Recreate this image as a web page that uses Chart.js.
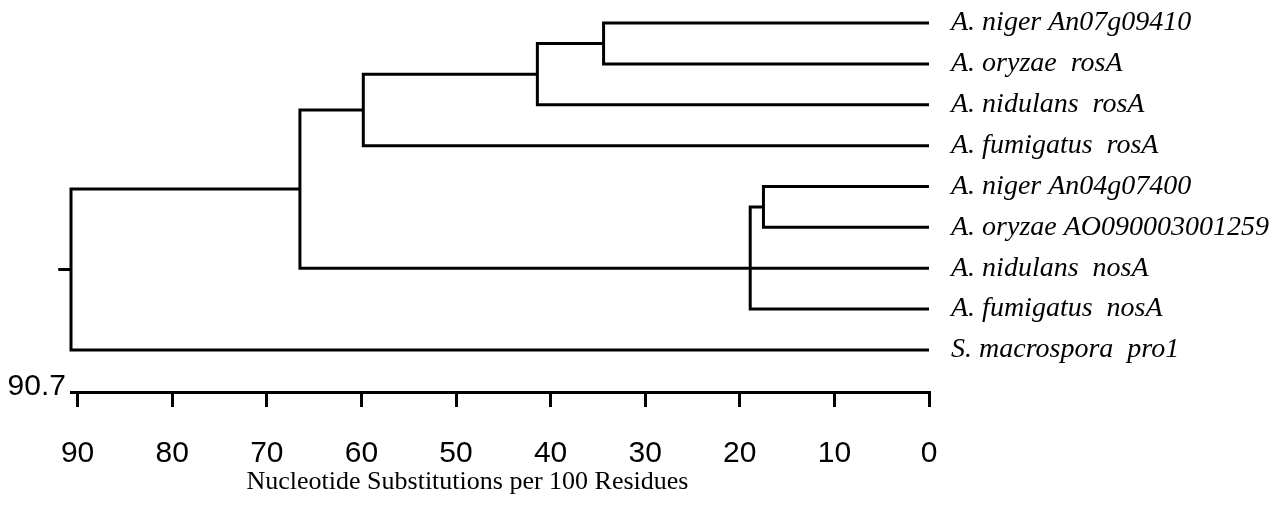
<!DOCTYPE html>
<html>
<head>
<meta charset="utf-8">
<script src="https://cdn.jsdelivr.net/npm/chart.js@4.4.1/dist/chart.umd.min.js"></script>
<style>
  html, body { margin: 0; padding: 0; background: #fff; }
  #wrap { width: 1287px; height: 510px; }
</style>
</head>
<body>
<div id="wrap"><canvas id="tree"></canvas></div>
<script>
// Leaves, top to bottom (row index = position in this list)
const leafNames = [
    'A. niger An07g09410',
    'A. oryzae  rosA',
    'A. nidulans  rosA',
    'A. fumigatus  rosA',
    'A. niger An04g07400',
    'A. oryzae AO090003001259',
    'A. nidulans  nosA',
    'A. fumigatus  nosA',
    'S. macrospora  pro1'
];

// Internal nodes: name, depth (substitutions per 100 residues), children
// children are leaf indexes (numbers) or node names (strings)
const nodeNames = ['n1', 'n2', 'n3', 'n5', 'n6', 'n4', 'root'];
const nodeHeights = [34.4, 41.4, 59.8, 17.5, 18.9, 66.5, 90.7];
const nodeChildren = [[0, 1], ['n1', 2], ['n2', 3], [4, 5], ['n5', 6, 7], ['n3', 'n6'], ['n4', 8]];
const rootBranch = 1.35;

const axisTicks = [90, 80, 70, 60, 50, 40, 30, 20, 10, 0];
const axisTitle = 'Nucleotide Substitutions per 100 Residues';

// Helpers
function heightOf(c) {
    return typeof c === 'number' ? 0 : nodeHeights[nodeNames.indexOf(c)];
}

function rowOf(c) {
    if (typeof c === 'number') return c;
    const rows = nodeChildren[nodeNames.indexOf(c)].map(rowOf);
    const n = rows.length;
    return n % 2 ? rows[(n - 1) / 2] : (rows[n / 2 - 1] + rows[n / 2]) / 2;
}

// Build one polyline per bracket (plus extra lines for middle children)
const lines = [];
nodeNames.forEach((name, i) => {
    const h = nodeHeights[i];
    const kids = nodeChildren[i];
    const first = kids[0];
    const last = kids[kids.length - 1];
    lines.push([
        { x: heightOf(first), y: rowOf(first) },
        { x: h, y: rowOf(first) },
        { x: h, y: rowOf(last) },
        { x: heightOf(last), y: rowOf(last) }
    ]);
    kids.slice(1, -1).forEach(k => {
        lines.push([{ x: h, y: rowOf(k) }, { x: heightOf(k), y: rowOf(k) }]);
    });
});
const rootH = nodeHeights[nodeNames.indexOf('root')];
const rootRow = rowOf('root');
lines.push([{ x: rootH, y: rootRow }, { x: rootH + rootBranch, y: rootRow }]);

// "90.7" sits left of the axis line
const rootLabel = {
    id: 'rootLabel',
    afterDraw(chart) {
        const { ctx, chartArea, scales } = chart;
        ctx.save();
        ctx.font = '30px "Liberation Sans", Arial, sans-serif';
        ctx.fillStyle = '#000';
        ctx.textAlign = 'right';
        ctx.textBaseline = 'alphabetic';
        ctx.fillText(String(rootH), scales.x.getPixelForValue(rootH) - 5, chartArea.bottom + 3);
        ctx.restore();
    }
};

const ctx = document.getElementById('tree').getContext('2d');
const chart = new Chart(ctx, {
    type: 'scatter',
    data: {
        datasets: lines.map(pts => ({
            data: pts,
            showLine: true,
            borderColor: '#000',
            borderWidth: 3,
            borderJoinStyle: 'miter',
            borderCapStyle: 'butt',
            pointRadius: 0,
            pointHoverRadius: 0,
            tension: 0,
            clip: false
        }))
    },
    options: {
        responsive: true,
        maintainAspectRatio: false,
        animation: false,
        devicePixelRatio: 1,
        layout: { padding: { left: 71, top: 8, right: 0, bottom: 0 } },
        plugins: {
            legend: { display: false },
            tooltip: { enabled: false }
        },
        scales: {
            x: {
                type: 'linear',
                position: 'bottom',
                reverse: true,
                min: 0,
                max: rootH,
                afterBuildTicks: scale => { scale.ticks = axisTicks.map(v => ({ value: v })); },
                afterFit: scale => { scale.height = 118; },
                border: { display: true, color: '#000', width: 3 },
                grid: {
                    display: true,
                    drawOnChartArea: false,
                    drawTicks: true,
                    tickLength: 15,
                    color: '#000',
                    lineWidth: 3
                },
                ticks: {
                    color: '#000',
                    padding: 29,
                    maxRotation: 0,
                    autoSkip: false,
                    font: { family: '"Liberation Sans", Arial, sans-serif', size: 30 }
                },
                title: {
                    display: true,
                    // trailing spaces nudge the centred title left, like the original
                    text: axisTitle + ' '.repeat(10),
                    color: '#000',
                    padding: { top: 0, bottom: 12 },
                    font: { family: '"Liberation Serif", "Times New Roman", serif', size: 26 }
                }
            },
            y: {
                type: 'linear',
                position: 'right',
                reverse: true,
                min: -0.37,
                max: 9.03,
                afterBuildTicks: scale => { scale.ticks = leafNames.map((_, i) => ({ value: i })); },
                afterFit: scale => {
                    scale.width = 1287 - 929;
                    scale.paddingTop = 0;
                    scale.paddingBottom = 0;
                },
                border: { display: false },
                grid: { display: false },
                ticks: {
                    color: '#000',
                    padding: 14,
                    autoSkip: false,
                    callback: v => leafNames[v],
                    font: { family: '"Liberation Serif", "Times New Roman", serif', style: 'italic', size: 28 }
                }
            }
        }
    },
    plugins: [rootLabel]
});
</script>
</body>
</html>
